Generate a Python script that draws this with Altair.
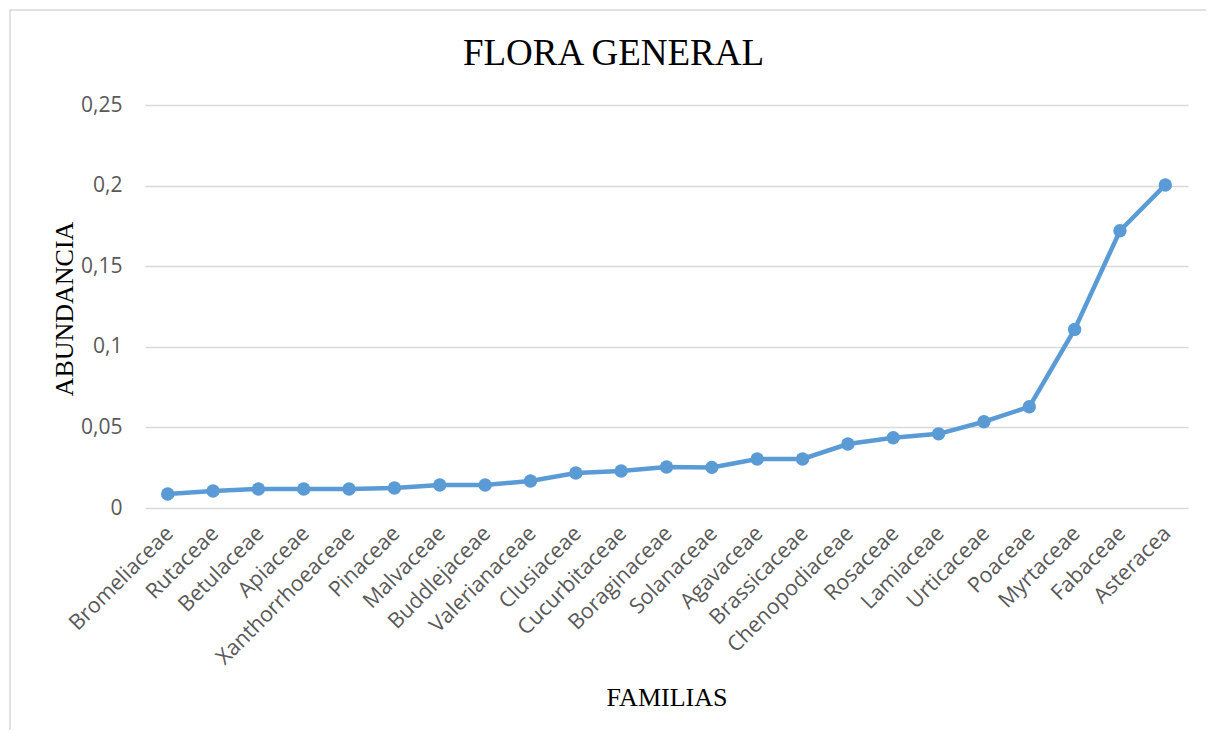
import altair as alt
import pandas as pd

familias = ["Bromeliaceae", "Rutaceae", "Betulaceae", "Apiaceae", "Xanthorrhoeaceae",
            "Pinaceae", "Malvaceae", "Buddlejaceae", "Valerianaceae", "Clusiaceae",
            "Cucurbitaceae", "Boraginaceae", "Solanaceae", "Agavaceae", "Brassicaceae",
            "Chenopodiaceae", "Rosaceae", "Lamiaceae", "Urticaceae", "Poaceae",
            "Myrtaceae", "Fabaceae", "Asteracea"]
abundancia = [0.0087, 0.0105, 0.0118, 0.0118, 0.0118,
              0.0124, 0.0143, 0.0143, 0.0167, 0.0217,
              0.0230, 0.0254, 0.0252, 0.0304, 0.0304,
              0.0397, 0.0436, 0.0460, 0.0535, 0.0628,
              0.1108, 0.1720, 0.2004]
y_ticks = [0, 0.05, 0.1, 0.15, 0.2, 0.25]

df = pd.DataFrame({"familia": familias, "abundancia": abundancia})

W, H = 1043, 403

base = alt.Chart(df).encode(
    x=alt.X("familia:N", sort=familias,
            scale=alt.Scale(type="point", padding=0.5),
            axis=alt.Axis(title="FAMILIAS", labelAngle=-45, labelAlign="right",
                          labelBaseline="middle", labelPadding=22, labelOffset=2,
                          ticks=False, domain=False, grid=False, labelFont="Open Sans",
                          labelFontSize=21.5, labelColor="#595959",
                          titleFont="Liberation Serif", titleFontSize=26,
                          titleFontWeight="normal", titleColor="#000000",
                          titleX=W / 2, titleY=189, titleBaseline="middle",
                          titleAlign="center", labelOverlap=False, labelLimit=400)),
    y=alt.Y("abundancia:Q",
            scale=alt.Scale(domain=[0, 0.25], nice=False),
            axis=alt.Axis(title="ABUNDANCIA", values=y_ticks,
                          labelExpr="replace(format(datum.value, ''), '.', ',')",
                          ticks=False, domain=False, gridColor="#D9D9D9",
                          gridWidth=1.3, labelFont="Open Sans", labelFontSize=21,
                          labelColor="#595959", labelPadding=23,
                          titleFont="Liberation Serif", titleFontSize=26,
                          titleFontWeight="normal", titleColor="#000000",
                          titleX=-81, titleY=H / 2 + 2, titleAngle=-90,
                          titleAlign="center", titleBaseline="middle")),
)

line = base.mark_line(color="#5B9BD5", strokeWidth=4.5)
points = base.mark_circle(color="#5B9BD5", size=180, opacity=1)

frame = alt.Chart(pd.DataFrame({"a": [0]})).mark_rect(
    fill=None, stroke="#D9D9D9", strokeWidth=1.5
).encode(x=alt.value(-135), x2=alt.value(1068), y=alt.value(-95), y2=alt.value(631))

chart = alt.layer(frame, line, points).properties(
    width=W, height=H,
    title=alt.TitleParams("FLORA GENERAL", font="Liberation Serif", fontSize=37,
                          fontWeight="normal", color="#000000", anchor="middle",
                          offset=-64, dx=-53),
    autosize=alt.AutoSizeParams(type="none"),
    padding={"left": 137, "top": 97, "right": 18, "bottom": 222},
).configure_view(stroke=None)

chart.save("out.html", embed_options={"renderer": "svg", "actions": False})
